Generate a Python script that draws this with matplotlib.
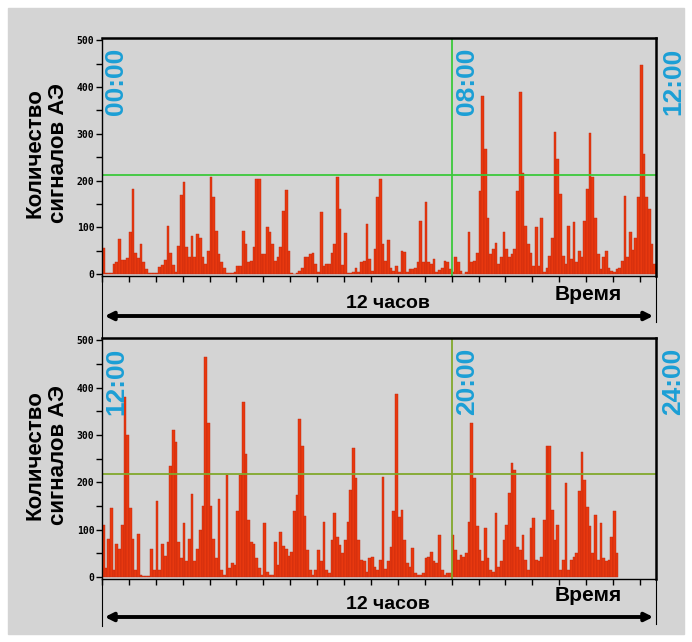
import numpy as np
import matplotlib
matplotlib.use("Agg")
import matplotlib.pyplot as plt
from matplotlib.lines import Line2D
from matplotlib.patches import Rectangle, FancyArrowPatch

# --- Datos (numero de senales por intervalo) ---
top_counts = [
    55, 2, 2, 2, 22, 25, 75, 30, 30, 35, 90, 183, 45, 35, 65, 25, 10, 3, 3, 3,
    3, 15, 20, 30, 103, 45, 20, 5, 60, 170, 197, 57, 36, 82, 36, 85, 78, 36, 22, 50,
    207, 165, 93, 43, 25, 14, 2, 2, 2, 4, 18, 18, 93, 64, 25, 29, 57, 203, 203, 43,
    43, 100, 90, 64, 29, 36, 57, 136, 180, 50,
    2, 0, 2, 7, 14, 36, 36, 43, 46, 21, 4, 132, 18, 21, 21, 46, 64, 207, 140, 20,
    87, 2, 2, 4, 14, 4, 25, 29, 107, 32, 7, 53, 164, 203, 64, 29, 72, 14, 7, 18,
    4, 50, 48, 4, 10, 10, 14, 25, 114, 25, 155, 25, 21, 32, 4, 8, 14, 29, 25, 10,
    4, 37, 25, 7, 0, 4,
    90, 25, 29, 46, 178, 382, 268, 121, 43, 53, 66, 21, 36, 90, 53, 36, 43, 53, 178, 390,
    217, 104, 64, 46, 18, 101, 18, 121, 5, 14, 39, 78, 304, 247, 171, 39, 21, 104, 32, 111,
    25, 50, 36, 114, 182, 302, 207, 121, 43, 10, 36, 50, 14, 7, 4, 10, 14, 29, 168,
    37, 90, 51, 78, 164, 447, 256, 164, 140, 64, 21,
]
bottom_counts = [
    110, 20, 80, 145, 15, 70, 60, 110, 380, 300, 145, 80, 15, 90, 5, 3, 3, 3, 60, 15,
    160, 15, 70, 45, 75, 235, 310, 285, 75, 40, 115, 35, 80, 175, 35, 60, 100, 150, 465, 325,
    150, 80, 40, 165, 15, 5, 215, 20, 30, 25, 140, 215, 370, 260, 120, 75, 70, 40, 20, 5,
    115, 10, 5, 5, 75, 25, 95, 65, 60, 45,
    54, 139, 174, 333, 276, 130, 57, 15, 4, 15, 57, 33, 117, 15, 8, 78, 135, 85, 68, 50,
    78, 117, 184, 272, 209, 78, 36, 33, 11, 40, 43, 22, 15, 36, 212, 18, 33, 64, 139, 386,
    128, 142, 78, 29, 22, 61, 8, 4, 4, 8, 40, 43, 54, 33, 29, 89, 15, 4, 9, 8,
    89, 57, 36, 47, 43, 50, 117,
    325, 209, 107, 57, 33, 103, 40, 15, 11, 135, 22, 33, 78, 110, 177, 240, 227, 64, 57, 89,
    36, 15, 103, 124, 36, 33, 43, 121, 276, 277, 142, 78, 110, 15, 36, 198, 15, 36, 43, 50,
    181, 265, 205, 149, 107, 50, 131, 36, 114, 40, 33, 36, 85, 139, 50,
]
top_times = ["00:00", "08:00", "12:00"]
bottom_times = ["12:00", "20:00", "24:00"]
thresholds = [211, 218]
mark_bin = 130      # posicion de 08:00 / 20:00
n_bins = 206
ylabel = "Количество\nсигналов АЭ"
span_label = "12 часов"
time_label = "Время"

W, H = 692, 642
BG = "#d4d4d4"
BLUE = "#1b9fd6"
BOLD = "Liberation Sans"


def fx(x):
    return x / W


def fy(y):
    return 1 - y / H


fig = plt.figure(figsize=(W / 100, H / 100), dpi=100)
fig.patch.set_facecolor("white")
fig.patches.append(Rectangle((fx(8), fy(634)), fx(684) - fx(8), fy(8) - fy(634),
                             transform=fig.transFigure, color=BG, zorder=-10))


def draw_panel(top_px, bot_px, counts, times, thr, line_color, label_y, arrow_y,
               left_end, right_end):
    ax = fig.add_axes([fx(102), fy(bot_px), fx(656) - fx(102), fy(top_px) - fy(bot_px)])
    ax.set_facecolor(BG)
    x = np.arange(len(counts))
    ax.bar(x, counts, width=1.0, align="edge", color="#e8380f",
           edgecolor="#c0260e", linewidth=0.3)
    ax.axhline(thr, color=line_color, lw=1.3)
    ax.axvline(mark_bin, color=line_color, lw=1.3)
    ax.set_xlim(0, n_bins)
    ax.set_ylim(-4, 505)

    ax.set_yticks(range(0, 501, 100))
    ax.set_yticks(range(50, 500, 100), minor=True)
    ax.set_xticks(range(0, n_bins + 1, 10))
    ax.set_xticklabels([])
    ax.tick_params(axis="y", which="both", direction="out", length=4, width=1, pad=1.5)
    ax.tick_params(axis="x", direction="out", length=4, width=1)
    for lbl in ax.get_yticklabels():
        lbl.set_fontfamily("DejaVu Sans Mono")
        lbl.set_fontweight("bold")
        lbl.set_fontsize(7)
    for side in ["top", "right"]:
        ax.spines[side].set_linewidth(1.8)
    for side in ["left", "bottom"]:
        ax.spines[side].set_linewidth(1.0)

    # etiquetas horarias
    for xp, t in zip([104, 455, 661], times):
        fig.text(fx(xp), fy(top_px + 10), t, rotation=90, ha="left", va="top",
                 color=BLUE, fontsize=19, fontweight="bold", family=BOLD)

    fig.text(fx(47), fy(label_y), ylabel, rotation=90, ha="center", va="center",
             multialignment="center", fontsize=16, fontweight="bold", family=BOLD,
             linespacing=1.15)

    # flecha de 12 horas
    fig.add_artist(Line2D([fx(102), fx(102)], [fy(bot_px), fy(left_end)],
                          transform=fig.transFigure, color="black", lw=0.8))
    fig.add_artist(Line2D([fx(656), fx(656)], [fy(bot_px), fy(right_end)],
                          transform=fig.transFigure, color="black", lw=0.8))
    fig.add_artist(FancyArrowPatch((fx(102), fy(arrow_y)), (fx(656), fy(arrow_y)),
                                   transform=fig.transFigure, arrowstyle="<|-|>",
                                   mutation_scale=12, color="black", lw=2.8))
    fig.text(fx(388), fy(arrow_y - 4), span_label, ha="center", va="bottom",
             fontsize=14, fontweight="bold", family=BOLD)
    fig.text(fx(588), fy(arrow_y - 12), time_label, ha="center", va="bottom",
             fontsize=15, fontweight="bold", family=BOLD)
    return ax


draw_panel(38, 276, top_counts, top_times, thresholds[0], "#3cc83c", 153, 316, 338, 322)
draw_panel(338, 579, bottom_counts, bottom_times, thresholds[1], "#82a82c", 455, 617, 626, 624)

fig.savefig("out.png", dpi=100, facecolor=fig.get_facecolor())
